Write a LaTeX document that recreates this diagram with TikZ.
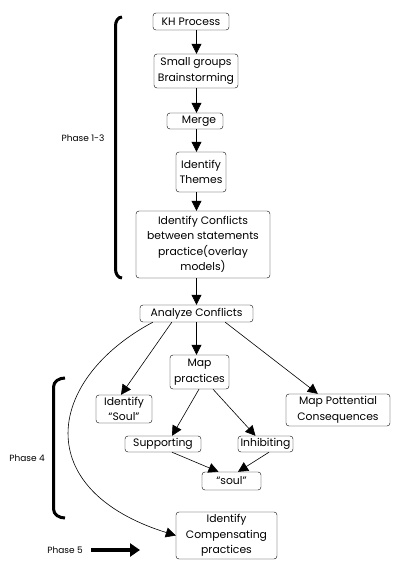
\documentclass[tikz,border=0pt]{standalone}
\usepackage{fontspec}
\setmainfont{Poppins}
\usetikzlibrary{arrows.meta}
\begin{document}
\begin{tikzpicture}[x=1pt, y=-1pt,
		box/.style={draw, rounded corners=3pt, align=center, inner sep=1pt,
			font=\fontsize{10.8}{15.5}\selectfont},
		arr/.style={-{Triangle[length=10pt, width=10pt]}, semithick},
		phase/.style={font=\fontsize{9}{10}\selectfont},
		brace/.style={line width=3pt}]
		\useasboundingbox (0,0) rectangle (410,570);

		% Draw the boxes of phases 1-3
		\node[box, minimum width=76pt, minimum height=17pt] (kh) at (191,21.5) {KH Process};
		\node[box, minimum width=84pt, minimum height=34pt] (sg) at (196,71) {Small groups\\Brainstorming};
		\node[box, minimum width=56pt, minimum height=16pt] (mg) at (195,121) {\hspace{8pt}Merge};
		\node[box, minimum width=50pt, minimum height=40pt] (th) at (201,172) {Identify\\Themes};
		\node[box, minimum width=134pt, minimum height=67pt] (ic) at (203,244.5) {Identify Conflicts\\between statements\\practice(overlay\\models)};

		% Draw the boxes of phase 4
		\node[box, minimum width=113pt, minimum height=17pt] (ac) at (196.5,313.5) {Analyze Conflicts};
		\node[box, minimum width=59pt, minimum height=34pt] (mp) at (199.5,372) {Map\\practices};
		\node[box, minimum width=56pt, minimum height=28pt] (is) at (124,409) {Identify\\``Soul''};
		\node[box, minimum width=104pt, minimum height=32pt] (pc) at (338,410) {Map Pottential\\Consequences};
		\node[box, minimum width=76pt, minimum height=16pt] (sp) at (163,444) {Supporting};
		\node[box, minimum width=55pt, minimum height=16pt] (ih) at (265.5,444) {Inhibiting};
		\node[box, minimum width=59pt, minimum height=18pt] (sl) at (231.5,481) {``soul''};

		% Draw the box of phase 5
		\node[box, minimum width=101pt, minimum height=47pt] (cp) at (226.5,535.5) {Identify\\Compensating\\practices};

		% Draw the arrows down the main line
		\draw[arr] (kh.south -| ac.north) -- (sg.north -| ac.north);
		\draw[arr] (sg.south -| ac.north) -- (mg.north -| ac.north);
		\draw[arr] (mg.south -| ac.north) -- (th.north -| ac.north);
		\draw[arr] (th.south -| ac.north) -- (ic.north -| ac.north);
		\draw[arr] (ic.south -| ac.north) -- (ac.north);

		% Draw the arrows out of Analyze Conflicts
		\draw[arr] (ac.south) -- (ac.south |- mp.north);
		\draw[arr] ([xshift=32pt]ac.south west) -- ([xshift=-3pt]is.north);
		\draw[arr] ([xshift=-28pt]ac.south east) -- ([xshift=32pt]pc.north west);
		\draw[arr] ([xshift=13pt]ac.south west) .. controls (45,380) and (30,490) .. (cp.west);

		% Draw the arrows out of Map practices
		\draw[arr] ([xshift=-0.5pt]mp.south) -- ([xshift=9pt]sp.north);
		\draw[arr] ([xshift=13.5pt]mp.south) -- ([xshift=-10pt]ih.north);
		\draw[arr] ([xshift=9pt]sp.south) -- ([xshift=-13pt]sl.north);
		\draw[arr] ([xshift=3.5pt]ih.south) -- ([xshift=6.5pt]sl.north);

		% Draw the phase brackets and labels
		\draw[brace] (122,17) to[out=180, in=90] (115.5,26) -- (115.5,269) to[out=-90, in=180] (122,278);
		\node[phase] (p13) at (83,138) {Phase 1-3};
		\draw[brace] (65,378) to[out=180, in=90] (53.5,387) -- (53.5,509) to[out=-90, in=180] (65,518);
		\node[phase] (p4) at (27,458) {Phase 4};
		\node[phase] (p5) at (65,550) {Phase 5};
		\coordinate (p5end) at (140,550);
		\draw[line width=4pt, -{Triangle[length=10pt, width=13pt]}] ([xshift=5pt]p5.east) -- (p5end);

	\end{tikzpicture}
\end{document}
